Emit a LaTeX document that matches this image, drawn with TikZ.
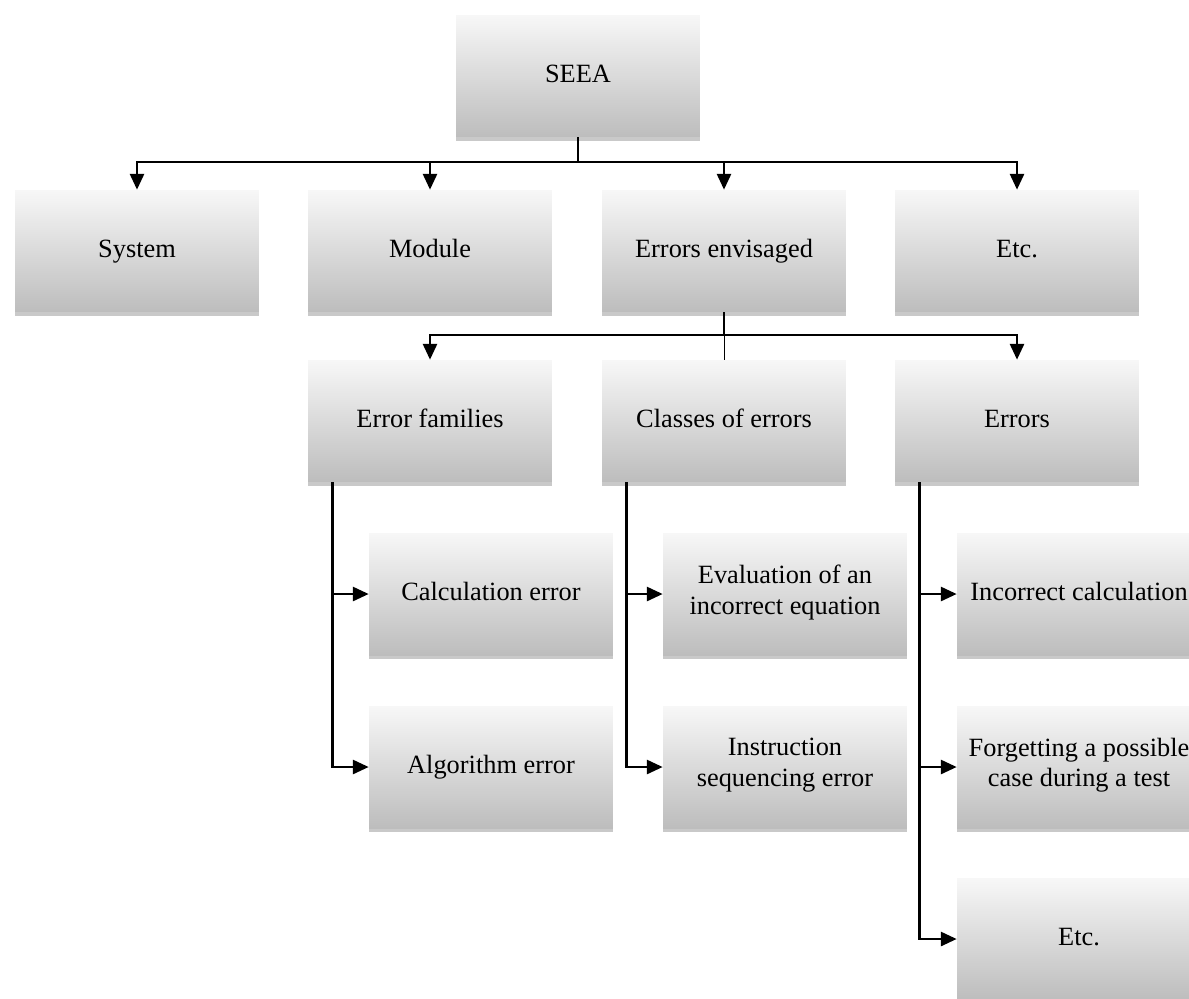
\documentclass[tikz,border=0pt]{standalone}
\usepackage{fontspec}
\setmainfont{Liberation Serif}
\usetikzlibrary{arrows.meta,shadows}
\begin{document}
\begin{tikzpicture}[x=0.02cm,y=-0.02cm,
font=\fontsize{15}{17.5}\selectfont,
box/.style ={rectangle, top color=black!3, bottom color=black!26,
  minimum width=4.88cm, minimum height=2.44cm, inner sep=0pt,
  align=center, execute at begin node=\strut, execute at end node=\strut,
  drop shadow={shadow xshift=0pt, shadow yshift=-2.5pt,
  opacity=0.3, fill=black!70}
},
link/.style ={line width=1.4pt},
conn/.style ={line width=1.4pt, -{Triangle[length=9pt,width=8pt]}}]
\useasboundingbox (0,0) rectangle (1189,998);
\clip (0,0) rectangle (1189,998);
% top level
\node (seea) at (578,76) [box] {SEEA};
\node (sys) at (137,251) [box] {System};
\node (mod) at (430,251) [box] {Module};
\node (env) at (724,251) [box] {Errors envisaged};
\node (etc) at (1017,251) [box] {Etc.};
% second level
\node (fam) at (430,421) [box] {Error families};
\node (cls) at (724,421) [box] {Classes of errors};
\node (err) at (1017,421) [box] {Errors};
% third level
\node (calc) at (491,594) [box] {Calculation error};
\node (algo) at (491,767) [box] {Algorithm error};
\node (eval) at (785,594) [box] {Evaluation of an\\incorrect equation};
\node (seq) at (785,767) [box] {Instruction\\sequencing error};
\node (inc) at (1079,594) [box] {Incorrect calculation};
\node (forg) at (1079,767) [box] {Forgetting a possible\\case during a test};
\node (etc2) at (1079,939) [box] {Etc.};
% connectors
\coordinate (top) at (578,162);
\coordinate (mid) at (724,335);
\draw[link] (seea) -- (top);
\foreach \n in {sys,mod,env,etc}
  \draw[conn] (top) -| (\n);
\draw[link] (env) -- (mid);
\foreach \n in {fam,err}
  \draw[conn] (mid) -| (\n);
\draw[thin] (mid) -- (cls);
\foreach \n in {calc,algo}
  \draw[conn] ([xshift=0.5cm]fam.south west) |- (\n);
\foreach \n in {eval,seq}
  \draw[conn] ([xshift=0.5cm]cls.south west) |- (\n);
\foreach \n in {inc,forg,etc2}
  \draw[conn] ([xshift=0.5cm]err.south west) |- (\n);
\end{tikzpicture}
\end{document}
